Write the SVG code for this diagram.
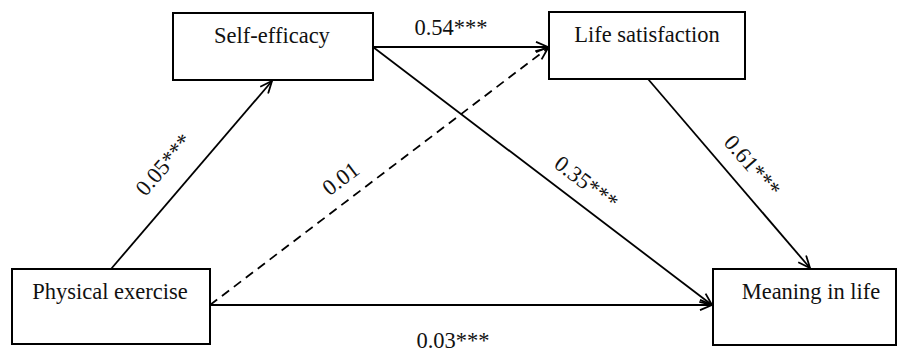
<svg xmlns="http://www.w3.org/2000/svg" width="897" height="356" viewBox="0 0 897 356">
<style>
.box{fill:#fff;stroke:#000;stroke-width:2}
.t{font-family:"Liberation Serif","DejaVu Serif",serif;font-size:22.5px;fill:#111;text-anchor:middle}
.e{stroke:#000;stroke-width:1.8;fill:none}
.d{stroke-dasharray:9,6}
</style>
<defs>
<marker id="a" viewBox="0 0 14 12" refX="13" refY="6" markerWidth="14" markerHeight="12" markerUnits="userSpaceOnUse" orient="auto">
<path d="M1,0.8 L13,6 L1,11.2" fill="none" stroke="#000" stroke-width="1.8"/>
</marker>
</defs>
<rect width="897" height="356" fill="#fff"/>
<g id="connectors">
<line class="e" x1="111" y1="269" x2="272" y2="81" marker-end="url(#a)"/>
<line class="e" x1="373" y1="47" x2="548" y2="47" marker-end="url(#a)"/>
<line class="e d" x1="210" y1="305" x2="548" y2="48" marker-end="url(#a)"/>
<line class="e" x1="373" y1="47" x2="712" y2="305" marker-end="url(#a)"/>
<line class="e" x1="210" y1="305" x2="712" y2="305" marker-end="url(#a)"/>
<line class="e" x1="648" y1="79" x2="810" y2="268" marker-end="url(#a)"/>
<text class="t" x="451" y="35">0.54***</text>
<text class="t" transform="translate(164,165) rotate(-49.4)" y="7">0.05***</text>
<text class="t" transform="translate(341,179) rotate(-37.3)" y="7">0.01</text>
<text class="t" transform="translate(586,183) rotate(37.2)" y="7">0.35***</text>
<text class="t" transform="translate(752,166) rotate(49.2)" y="7">0.61***</text>
<text class="t" x="453" y="348">0.03***</text>
</g>
<g id="self-efficacy">
<rect class="box" x="173" y="13" width="200" height="67"/>
<text class="t" x="272" y="43">Self-efficacy</text>
</g>
<g id="life-satisfaction">
<rect class="box" x="549" y="12" width="196" height="67"/>
<text class="t" x="647" y="42">Life satisfaction</text>
</g>
<g id="physical-exercise">
<rect class="box" x="12" y="269" width="198" height="75"/>
<text class="t" x="110" y="299">Physical exercise</text>
</g>
<g id="meaning-in-life">
<rect class="box" x="713" y="269" width="183" height="76"/>
<text class="t" x="811" y="299">Meaning in life</text>
</g>
</svg>
